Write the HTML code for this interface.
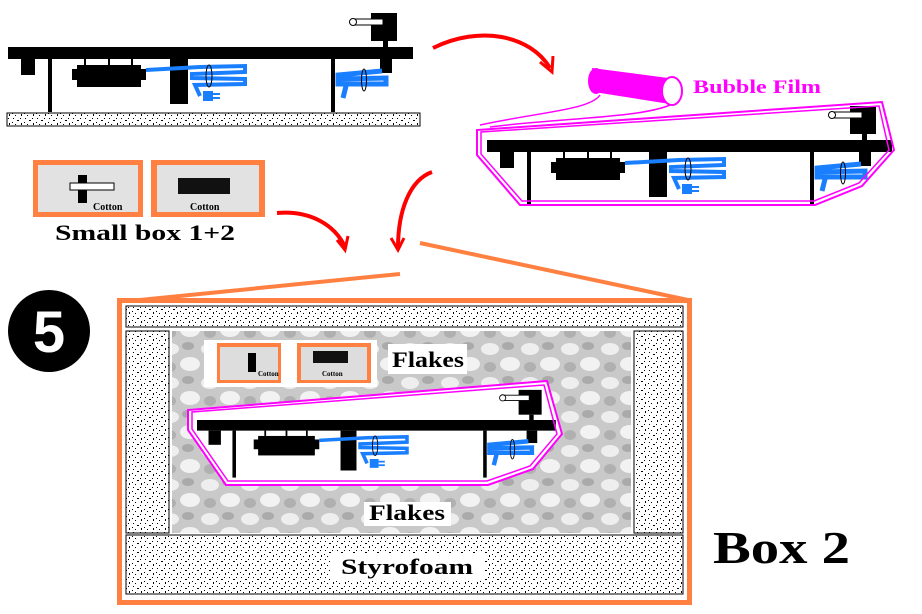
<!DOCTYPE html>
<html><head><meta charset="utf-8"><style>
html,body{margin:0;padding:0;background:#fff;}
svg{display:block}
</style></head><body>
<svg width="922" height="614" viewBox="0 0 922 614" xmlns="http://www.w3.org/2000/svg">
<defs>
<pattern id="st" width="12" height="9" patternUnits="userSpaceOnUse">
<rect width="12" height="9" fill="#fff"/>
<rect x="1" y="1" width="1" height="1" fill="#000"/>
<rect x="5" y="3" width="2" height="1" fill="#000"/>
<rect x="9" y="6" width="1" height="2" fill="#000"/>
<rect x="3" y="7" width="1" height="1" fill="#000"/>
<rect x="8" y="1" width="1" height="1" fill="#000"/>
<rect x="0" y="5" width="1" height="1" fill="#000"/>
</pattern>
<pattern id="fl" width="40" height="34" patternUnits="userSpaceOnUse">
<rect width="40" height="34" fill="#c9c9c9"/>
<ellipse cx="10" cy="9" rx="9" ry="6" fill="#eee"/>
<ellipse cx="30" cy="24" rx="10" ry="7" fill="#f2f2f2"/>
<ellipse cx="28" cy="6" rx="6" ry="4" fill="#aaa"/>
<ellipse cx="10" cy="27" rx="6" ry="5" fill="#b0b0b0"/>
</pattern>
<g id="tt">
<rect x="8" y="47" width="405" height="12" fill="#000"/>
<rect x="21" y="59" width="14" height="16" fill="#000"/>
<rect x="48" y="59" width="4" height="53" fill="#000"/>
<rect x="77" y="65" width="64" height="22" fill="#000"/>
<rect x="72" y="69" width="74" height="11" fill="#000"/>
<rect x="84" y="59" width="2" height="6" fill="#000"/><rect x="108" y="59" width="2" height="6" fill="#000"/><rect x="131" y="59" width="2" height="6" fill="#000"/>
<rect x="170" y="59" width="18" height="45" fill="#000"/>
<rect x="331" y="59" width="4" height="53" fill="#000"/>
<rect x="371" y="13" width="26" height="28" fill="#000"/>
<rect x="383" y="41" width="5" height="6" fill="#000"/>
<rect x="353" y="19" width="30" height="6" fill="#fff" stroke="#000" stroke-width="1"/>
<circle cx="353" cy="22" r="3.5" fill="#fff" stroke="#000"/>
<rect x="380" y="59" width="12" height="14" fill="#000"/>
<path d="M146 70 L200 67 L245 66 L245 72 L192 74 L192 78 L245 79 L245 84 L195 85 L200 96" fill="none" stroke="#1a7fff" stroke-width="4"/>
<rect x="203" y="91" width="10" height="10" fill="#1a7fff"/><rect x="213" y="93" width="7" height="2" fill="#1a7fff"/><rect x="213" y="97" width="7" height="2" fill="#1a7fff"/>
<ellipse cx="209" cy="76" rx="3" ry="11" fill="none" stroke="#000"/>
<path d="M382 71 L338 75 L338 84 L386 84 L386 78 L340 79 M346 86 L343 98" fill="none" stroke="#1a7fff" stroke-width="5"/>
<ellipse cx="364" cy="80" rx="2.5" ry="11" fill="none" stroke="#000"/>
</g>
</defs>

<use href="#tt"/>
<rect x="7" y="113" width="413" height="13" fill="url(#st)" stroke="#000"/>

<use href="#tt" transform="translate(479,93)"/>
<polygon points="477,130 477,155 520,205 815,205 862,186 894,150 882,102" fill="none" stroke="#f0f" stroke-width="2"/>
<polygon points="481,132 481,154 522,201 814,201 859,183 889,150 879,106" fill="none" stroke="#f0f" stroke-width="1.5"/>
<path d="M600 95 C590 110 540 112 480 125" fill="none" stroke="#f0f" stroke-width="1.5"/>
<path d="M670 105 C640 118 560 118 490 127" fill="none" stroke="#f0f" stroke-width="1.5"/>
<path d="M592 68 L668 78 L670 104 L594 92 Z" fill="#f0f"/>
<ellipse cx="596" cy="81" rx="8" ry="13" fill="#f0f"/>
<ellipse cx="672" cy="91" rx="10" ry="14" fill="#fff" stroke="#f0f" stroke-width="2"/>
<text x="693" y="93" font-family="Liberation Serif,serif" font-weight="bold" font-size="19" fill="#f0f" textLength="128" lengthAdjust="spacingAndGlyphs">Bubble Film</text>

<path d="M433 48 C480 25 530 35 550 68" fill="none" stroke="#f00" stroke-width="4"/>
<path d="M540 62 L552 72 L553 56" fill="none" stroke="#f00" stroke-width="3"/>
<path d="M277 213 C310 210 335 225 345 247" fill="none" stroke="#f00" stroke-width="4"/>
<path d="M337 240 L345 250 L348 236" fill="none" stroke="#f00" stroke-width="3"/>
<path d="M432 172 C410 180 398 210 398 248" fill="none" stroke="#f00" stroke-width="4"/>
<path d="M391 238 L398 250 L404 238" fill="none" stroke="#f00" stroke-width="3"/>

<rect x="33" y="160" width="110" height="57" fill="#ff8040"/>
<rect x="38" y="165" width="100" height="47" fill="#e2e2e2"/>
<rect x="78" y="175" width="9" height="28" fill="#000"/><rect x="70" y="183" width="44" height="7" fill="#fff" stroke="#000"/>
<text x="93" y="210" font-family="Liberation Serif,serif" font-weight="bold" font-size="10">Cotton</text>
<rect x="151" y="160" width="114" height="57" fill="#ff8040"/>
<rect x="157" y="165" width="102" height="47" fill="#e2e2e2"/>
<rect x="178" y="178" width="52" height="16" fill="#111"/>
<text x="190" y="210" font-family="Liberation Serif,serif" font-weight="bold" font-size="10">Cotton</text>
<text x="55" y="240" font-family="Liberation Serif,serif" font-weight="bold" font-size="22" textLength="180" lengthAdjust="spacingAndGlyphs">Small box 1+2</text>

<circle cx="49" cy="331" r="41" fill="#000"/>
<text x="49" y="352" text-anchor="middle" font-family="Liberation Sans,sans-serif" font-weight="bold" font-size="58" fill="#fff">5</text>

<path d="M119 302 L400 274 M420 243 L688 300" stroke="#ff8040" stroke-width="4" fill="none"/>
<rect x="119.5" y="300.5" width="570" height="302" fill="#fff" stroke="#ff8040" stroke-width="5"/>
<rect x="126" y="306" width="557" height="21" fill="url(#st)" stroke="#000"/>
<rect x="126" y="331" width="43" height="202" fill="url(#st)" stroke="#000"/>
<rect x="634" y="331" width="49" height="202" fill="url(#st)" stroke="#000"/>
<rect x="126" y="535" width="557" height="59" fill="url(#st)" stroke="#000"/>
<rect x="172" y="331" width="459" height="202" fill="url(#fl)"/>
<rect x="330" y="553" width="154" height="28" fill="#fff"/>
<text x="407" y="574" text-anchor="middle" font-family="Liberation Serif,serif" font-weight="bold" font-size="22" textLength="132" lengthAdjust="spacingAndGlyphs">Styrofoam</text>

<rect x="204" y="340" width="173" height="47" fill="#fff"/>
<rect x="217" y="343" width="64" height="40" fill="#ff8040"/><rect x="220" y="347" width="58" height="33" fill="#ddd"/>
<rect x="248" y="353" width="8" height="19" fill="#000"/>
<text x="258" y="376" font-family="Liberation Serif,serif" font-weight="bold" font-size="7">Cotton</text>
<rect x="297" y="343" width="74" height="40" fill="#ff8040"/><rect x="301" y="347" width="66" height="33" fill="#ddd"/>
<rect x="313" y="351" width="35" height="12" fill="#111"/>
<text x="322" y="376" font-family="Liberation Serif,serif" font-weight="bold" font-size="7">Cotton</text>
<rect x="388" y="344" width="79" height="30" fill="#fff"/>
<text x="428" y="367" text-anchor="middle" font-family="Liberation Serif,serif" font-weight="bold" font-size="22" textLength="72" lengthAdjust="spacingAndGlyphs">Flakes</text>
<rect x="364" y="502" width="87" height="24" fill="#fff"/>
<text x="407" y="520" text-anchor="middle" font-family="Liberation Serif,serif" font-weight="bold" font-size="22" textLength="76" lengthAdjust="spacingAndGlyphs">Flakes</text>

<polygon points="188,410 188,430 226,485 488,485 533,469 562,434 547,381" fill="#fff"/>
<use href="#tt" transform="translate(197,420) scale(0.886) translate(-8,-47)"/>
<polygon points="188,410 188,430 226,485 488,485 533,469 562,434 547,381" fill="none" stroke="#f0f" stroke-width="2"/>
<polygon points="192,412 192,429 228,481 487,481 530,466 557,434 544,385" fill="none" stroke="#f0f" stroke-width="1.5"/>

<text x="713" y="563" font-family="Liberation Serif,serif" font-weight="bold" font-size="46" textLength="137" lengthAdjust="spacingAndGlyphs">Box 2</text>
</svg>
</body></html>
